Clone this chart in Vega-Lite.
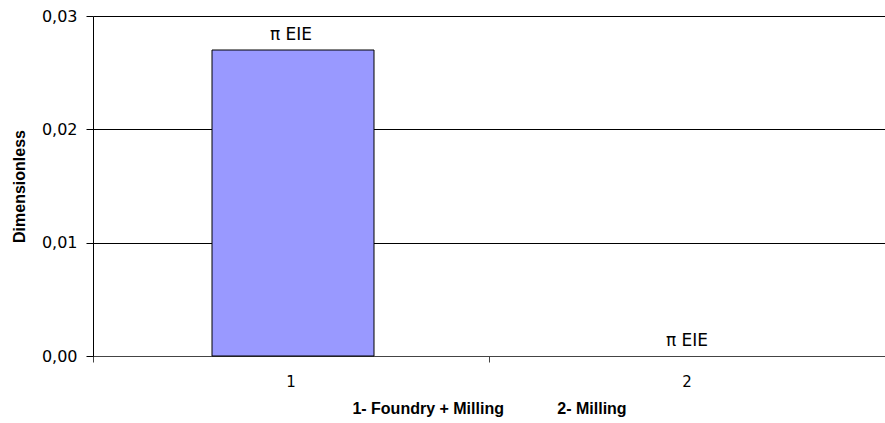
{
  "$schema": "https://vega.github.io/schema/vega-lite/v6.json",
  "width": 792,
  "height": 340,
  "autosize": "none",
  "padding": {"left": 93, "top": 16, "right": 0, "bottom": 67},
  "background": "white",
  "config": {
    "view": {"stroke": null},
    "font": "DejaVu Sans",
    "locale": {"number": {"decimal": ",", "thousands": ".", "grouping": [3], "currency": ["", " €"]}}
  },
  "data": {"values": [
    {"cat": "1", "value": 0.027, "label": "π EIE"},
    {"cat": "2", "value": 0.0, "label": "π EIE"}
  ]},
  "encoding": {
    "x": {
      "field": "cat", "type": "nominal",
      "scale": {"paddingInner": 0, "paddingOuter": 0},
      "axis": {
        "title": "1- Foundry + Milling\u00a0\u00a0\u00a0\u00a0\u00a0\u00a0\u00a0\u00a0\u00a0\u00a0\u00a0\u00a02- Milling",
        "titleFont": "Liberation Sans", "titleFontSize": 16, "titleFontWeight": "bold", "titleColor": "black",
        "titlePadding": 11,
        "labelAngle": 0, "labelFont": "DejaVu Sans", "labelFontSize": 15, "labelColor": "black", "labelPadding": 12,
        "domainColor": "#444444", "tickColor": "#444444", "tickSize": 6, "bandPosition": 0,
        "grid": false
      }
    },
    "y": {
      "field": "value", "type": "quantitative",
      "scale": {"domain": [0, 0.03], "nice": false},
      "axis": {
        "title": "Dimensionless",
        "titleFont": "Liberation Sans", "titleFontSize": 16, "titleFontWeight": "bold", "titleColor": "black", "titlePadding": 14,
        "values": [0, 0.01, 0.02, 0.03], "format": ".2f",
        "labelFont": "DejaVu Sans", "labelFontSize": 16, "labelColor": "black", "labelPadding": 9,
        "domainColor": "black", "tickColor": "black", "tickSize": 7,
        "grid": true, "gridColor": "black", "gridOpacity": 1, "gridWidth": 1
      }
    }
  },
  "layer": [
    {"mark": {"type": "bar", "width": 162, "xOffset": 2, "color": "#9999FF", "stroke": "black", "strokeWidth": 1},
     "encoding": {"strokeOpacity": {"condition": {"test": "datum.value == 0", "value": 0}, "value": 1}}},
    {"mark": {"type": "text", "baseline": "alphabetic", "dy": -10, "fontSize": 17, "font": "DejaVu Sans", "color": "black"},
     "encoding": {"text": {"field": "label"}}}
  ]
}
